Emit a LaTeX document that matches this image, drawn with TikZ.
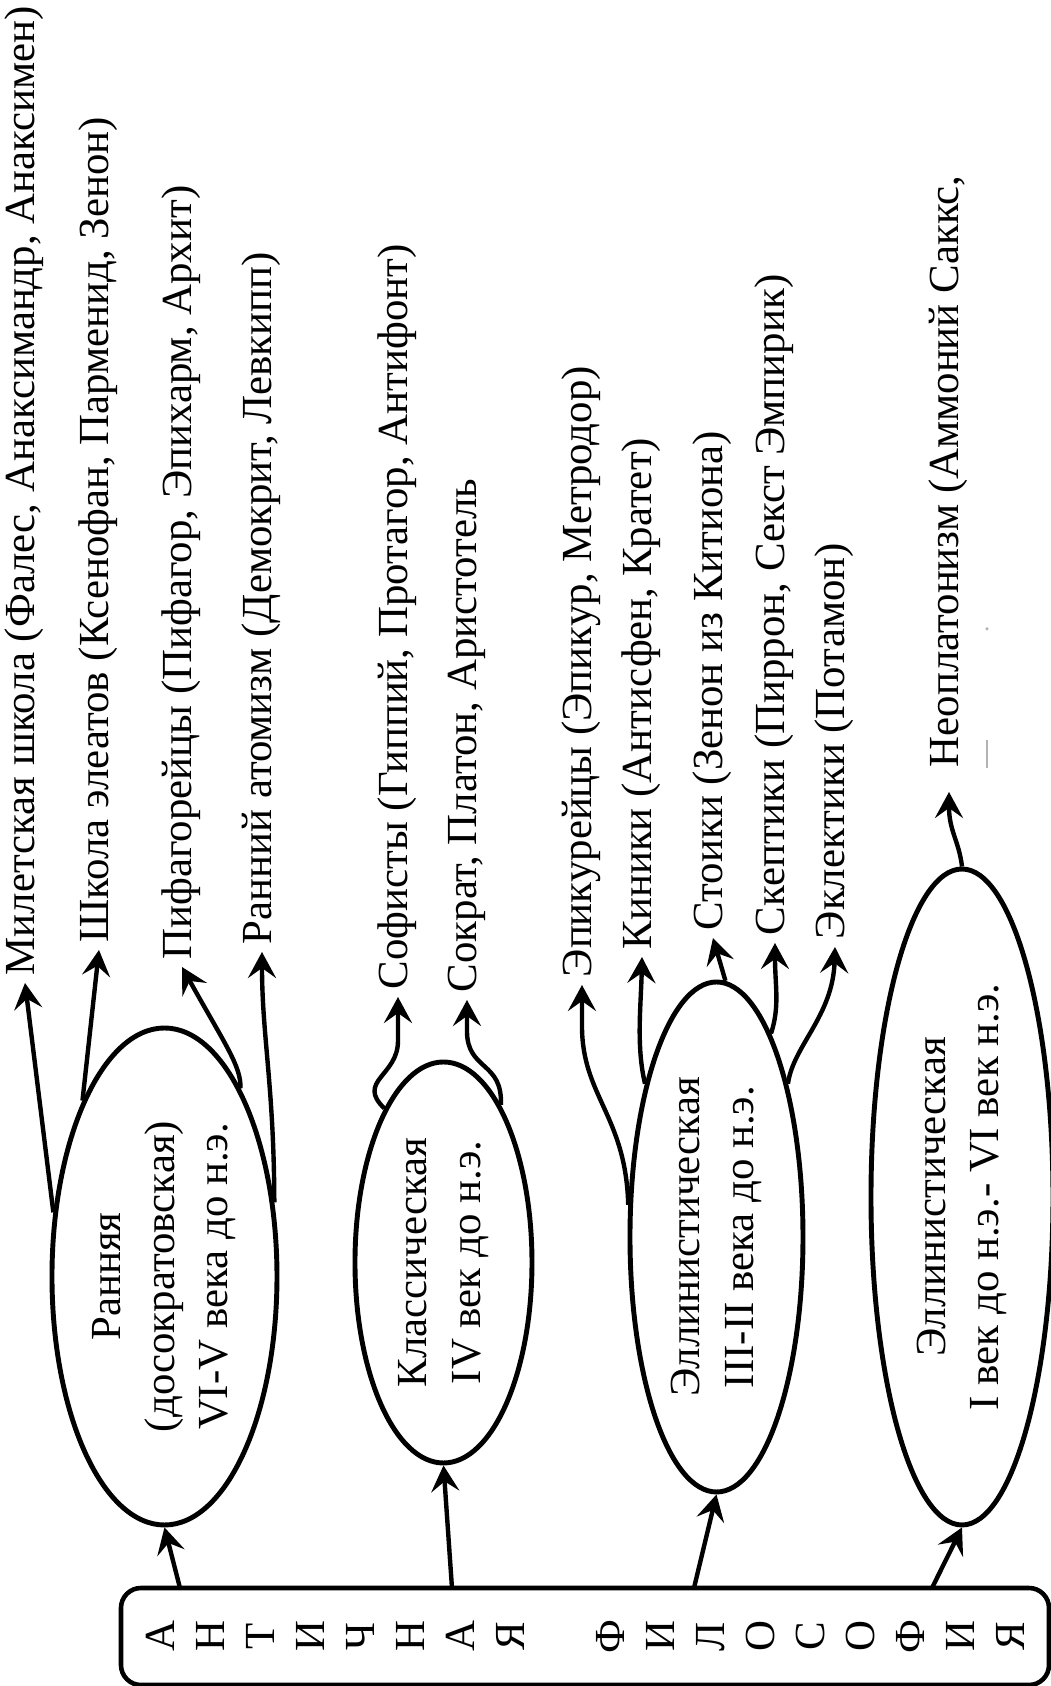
\documentclass[tikz,border=0pt]{standalone}
\usepackage{fontspec}
\setmainfont{Liberation Serif}
\usetikzlibrary{arrows.meta,shapes.geometric}
\tikzset{
  period/.style={ellipse, draw, line width=1.4pt, inner sep=0pt, align=center,
    font=\fontsize{12.2}{15.2}\selectfont},
  school/.style={anchor=west, inner sep=0.7mm, text height=0.75em, text depth=0.19em,
    font=\fontsize{12.2}{14.6}\selectfont},
  arr/.style={-{Stealth[length=2.6mm,width=2.8mm,inset=1mm]}, line width=1.25pt}
}
\begin{document}
\begin{tikzpicture}[rotate=90, transform shape]
  \useasboundingbox (0,0) rectangle (16.86,10.51);
  %title box
  \node[draw, rounded corners=2mm, line width=1.3pt, minimum width=0.97cm,
        minimum height=9.28cm, align=center, inner sep=0pt,
        font=\fontsize{12.2}{14.23}\selectfont] (antiq) at (0.495,4.66)
        {А\\Н\\Т\\И\\Ч\\Н\\А\\Я\\[14.23pt]Ф\\И\\Л\\О\\С\\О\\Ф\\И\\Я};
  %periods
  \node[period, minimum width=4.97cm, minimum height=2.25cm] (early) at (4.095,8.865)
        {Ранняя\\(досократовская)\\VI-V века до н.э.};
  \node[period, minimum width=4.01cm, minimum height=1.77cm] (classic) at (4.235,6.075)
        {Классическая\\IV век до н.э.};
  \node[period, minimum width=5.10cm, minimum height=1.73cm] (hell) at (4.49,3.345)
        {Эллинистическая\\III-II века до н.э.};
  \node[period, minimum width=6.56cm, minimum height=1.82cm] (late) at (4.89,0.89)
        {Эллинистическая\\I век до н.э.- VI век н.э.};
  %schools
  \node[school] (milet) at (7.03,10.26) {Милетская школа (Фалес, Анаксимандр, Анаксимен)};
  \node[school] (eleat) at (7.36,9.52) {Школа элеатов (Ксенофан, Парменид, Зенон)};
  \node[school] (pyth) at (7.19,8.69) {Пифагорейцы (Пифагор, Эпихарм, Архит)};
  \node[school] (atom) at (7.34,7.89) {Ранний атомизм (Демокрит, Левкипп)};
  \node[school] (soph) at (6.89,6.53) {Софисты (Гиппий, Протагор, Антифонт)};
  \node[school] (socr) at (6.86,5.84) {Сократ, Платон, Аристотель};
  \node[school] (epic) at (7.01,4.69) {Эпикурейцы (Эпикур, Метродор)};
  \node[school] (cyn) at (7.29,4.09) {Киники (Антисфен, Кратет)};
  \node[school] (stoic) at (7.48,3.38) {Стоики (Зенон из Китиона)};
  \node[school] (scept) at (7.43,2.76) {Скептики (Пиррон, Секст Эмпирик)};
  \node[school] (eclec) at (7.39,2.16) {Эклектики (Потамон)};
  \node[school] (neopl) at (9.11,1.02) {Неоплатонизм (Аммоний Саккс,};
  %cut off second line
  \draw[gray!60, line width=0.3pt] (9.18,0.64) -- (9.46,0.64);
  \fill[gray!60] (10.57,0.64) circle (0.5pt);
  %from the title to the periods
  \coordinate (b1) at (0.98,8.71);
  \coordinate (b2) at (0.98,5.99);
  \coordinate (b3) at (0.98,3.57);
  \coordinate (b4) at (0.98,1.19);
  \draw[arr] (b1) -- (early.west);
  \draw[arr] (b2) -- (classic.west);
  \draw[arr] (b3) -- (hell.west);
  \draw[arr] (b4) -- (late.west);
  %from the periods to the schools
  \draw[arr] (early.60) -- (milet.west);
  \draw[arr] (early.25) -- (eleat.west);
  \draw[arr] (early.338) .. controls (6.20,8.10) and (6.40,8.25) .. (pyth.west);
  \draw[arr] (early.304) .. controls (6.00,7.77) and (6.50,7.89) .. (atom.west);
  \draw[arr] (classic.21) .. controls (6.05,6.95) and (6.10,6.53) .. (6.45,6.53)
        -- (soph.west);
  \draw[arr] (classic.340) .. controls (6.25,5.48) and (6.15,5.84) .. (6.55,5.84)
        -- (socr.west);
  \draw[arr] (hell.70) .. controls (5.70,4.25) and (5.90,4.69) .. (6.60,4.69)
        -- (epic.west);
  \draw[arr] (hell.25) .. controls (6.40,4.15) and (6.80,4.10) .. (cyn.west);
  \draw[arr] (hell.358) -- (stoic.west);
  \draw[arr] (hell.345) .. controls (6.80,2.71) and (7.00,2.76) .. (scept.west);
  \draw[arr] (hell.335) .. controls (6.40,2.58) and (6.70,2.18) .. (eclec.west);
  \draw[arr, shorten >=1.7mm] (late.east) .. controls (8.45,0.92) and (8.55,1.02)
        .. (neopl.west);
\end{tikzpicture}
\end{document}
